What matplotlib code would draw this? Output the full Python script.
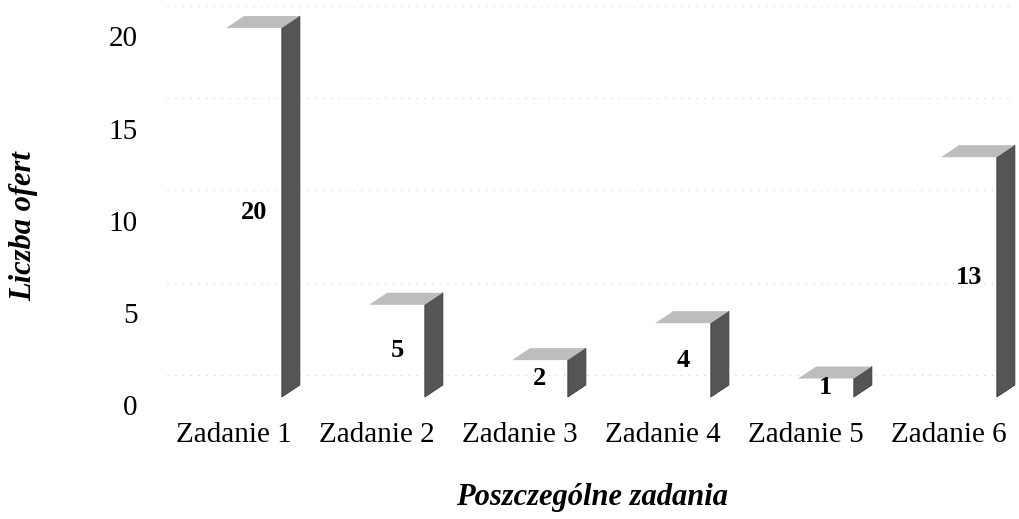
import numpy as np
import matplotlib.pyplot as plt
from matplotlib.patches import Polygon

# data
categories = ["Zadanie 1", "Zadanie 2", "Zadanie 3", "Zadanie 4", "Zadanie 5", "Zadanie 6"]
offers = [20, 5, 2, 4, 1, 13]
y_ticks = [0, 5, 10, 15, 20]

plt.rcParams["font.family"] = ["Liberation Serif", "DejaVu Serif"]

W, H = 1020, 519
fig = plt.figure(figsize=(W / 100, H / 100), dpi=100)
# plot area in pixels: left 150 .. right 1020, top 0 .. bottom 410
ax = fig.add_axes([150 / W, (H - 410) / H, 870 / W, 410 / H])

# pseudo-3D bar geometry (data units)
width = 0.39       # front face width
depth_x = 0.126    # horizontal depth offset
depth_y = 0.65     # vertical depth offset
wall_offset = 1.2  # back wall gridlines sit behind the bars

x = np.arange(len(categories))

# faint dotted gridlines on the back wall
for t in y_ticks:
    ax.axhline(t + wall_offset, xmin=0.02, xmax=0.99, color="#cccccc",
               ls=(0, (1, 6)), lw=0.8, zorder=0)

for i, v in zip(x, offers):
    left, right = i - width / 2, i + width / 2
    side = Polygon([(right, 0), (right, v), (right + depth_x, v + depth_y),
                    (right + depth_x, depth_y)], closed=True,
                   facecolor="#555555", edgecolor="#3a3a3a", lw=0.6, zorder=2)
    top = Polygon([(left, v), (right, v), (right + depth_x, v + depth_y),
                   (left + depth_x, v + depth_y)], closed=True,
                  facecolor="#bdbdbd", edgecolor="none", zorder=2)
    ax.add_patch(side)
    ax.add_patch(top)
    ax.text(i, v / 2, str(v), ha="center", va="center", fontsize=19,
            fontweight="bold", color="black", zorder=3)

ax.set_xlim(-0.727, 5.357)
ax.set_ylim(-0.705, 21.52)

ax.set_xticks(x - 0.14)
ax.set_xticklabels(categories, fontsize=21)
ax.set_yticks(np.array(y_ticks) - 0.45)
ax.set_yticklabels([str(t) for t in y_ticks], fontsize=21)
ax.tick_params(length=0, pad=9)
for s in ax.spines.values():
    s.set_visible(False)

fig.text(592 / W, 1 - 498 / H, "Poszczególne zadania", ha="center", va="center",
         fontsize=22, fontweight="bold", style="italic")
fig.text(24 / W, 1 - 226 / H, "Liczba ofert", ha="center", va="center",
         rotation=90, fontsize=22, fontweight="bold", style="italic")

fig.savefig("out.png", dpi=100, facecolor="white")
